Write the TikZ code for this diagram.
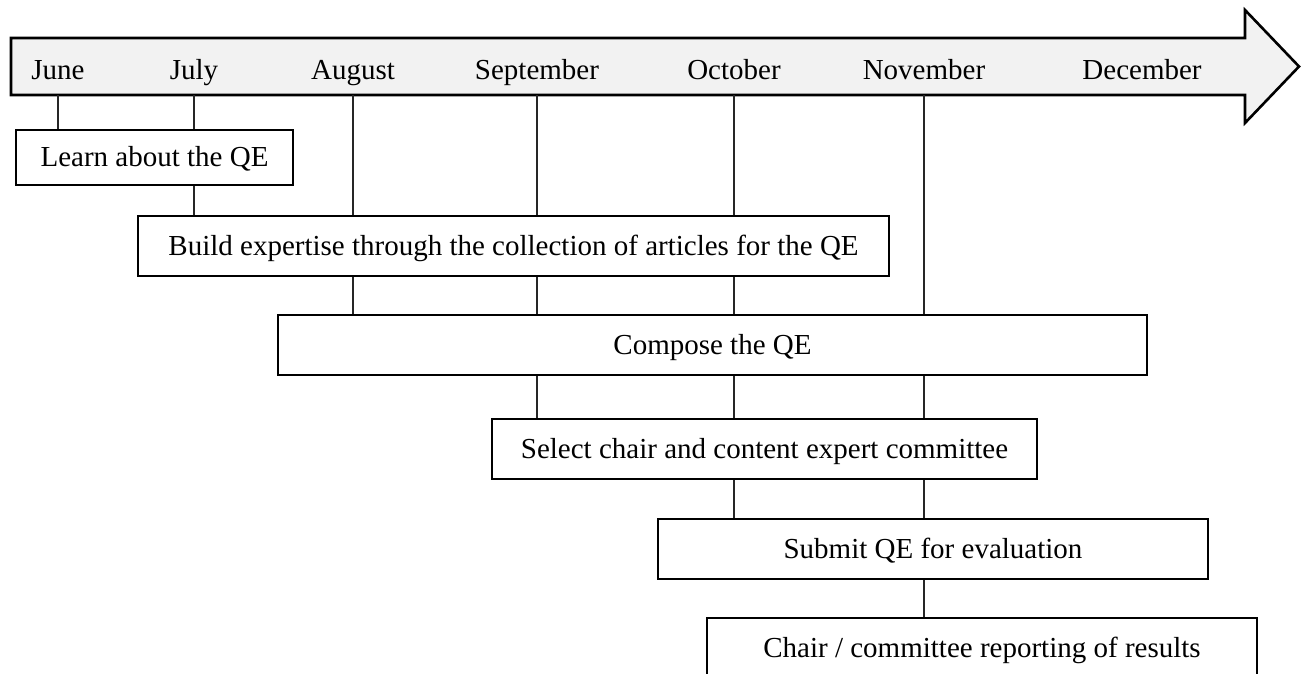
\documentclass[tikz,border=0pt]{standalone}
\usepackage{fontspec}
\setmainfont{Liberation Serif}
\definecolor{arrowfill}{HTML}{F2F2F2}
\tikzset{
  month/.style={anchor=base, inner sep=0pt, font=\fontsize{29}{34}\selectfont},
  taskbox/.style={draw=black, line width=2pt, fill=white, inner sep=0pt,
    text height=19pt, text depth=0pt, font=\fontsize{29}{34}\selectfont},
  link/.style={draw=black!85, line width=1.2pt},
  timearrow/.style={draw=black, line width=2.6pt, fill=arrowfill, line join=miter}
}
\begin{document}
\begin{tikzpicture}[x=1pt, y=-1pt]
\useasboundingbox (0,0) rectangle (1304,674);
% time axis arrow
\draw[timearrow] (11,38) -- (1245,38) -- (1245,10) -- (1299,66.5) -- (1245,123) -- (1245,95) -- (11,95) -- cycle;
\coordinate (axis) at (0,95);
% month labels
\node[month] (jun) at (58,80) {June};
\node[month] (jul) at (194,80) {July};
\node[month] (aug) at (353,80) {August};
\node[month] (sep) at (537,80) {September};
\node[month] (oct) at (734,80) {October};
\node[month] (nov) at (924,80) {November};
\node[month] (dec) at (1142,80) {December};
% task boxes
\node[taskbox, minimum width=277pt, minimum height=55pt] (b1) at (154.5,157.5) {Learn about the QE};
\node[taskbox, minimum width=751pt, minimum height=60pt] (b2) at (513.5,246) {Build expertise through the collection of articles for the QE};
\node[taskbox, minimum width=869pt, minimum height=60pt] (b3) at (712.5,345) {Compose the QE};
\node[taskbox, minimum width=545pt, minimum height=60pt] (b4) at (764.5,449) {Select chair and content expert committee};
\node[taskbox, minimum width=550pt, minimum height=60pt] (b5) at (933,549) {Submit QE for evaluation};
\node[taskbox, minimum width=550pt, minimum height=60pt] (b6) at (982,648) {Chair / committee reporting of results};
% connectors
\draw[link] (jun |- axis) -- (jun |- b1.north);
\draw[link] (jul |- axis) -- (jul |- b1.north);
\draw[link] (jul |- b1.south) -- (jul |- b2.north);
\draw[link] (aug |- axis) -- (aug |- b2.north);
\draw[link] (aug |- b2.south) -- (aug |- b3.north);
\draw[link] (sep |- axis) -- (sep |- b2.north);
\draw[link] (sep |- b2.south) -- (sep |- b3.north);
\draw[link] (sep |- b3.south) -- (sep |- b4.north);
\draw[link] (oct |- axis) -- (oct |- b2.north);
\draw[link] (oct |- b2.south) -- (oct |- b3.north);
\draw[link] (oct |- b3.south) -- (oct |- b4.north);
\draw[link] (oct |- b4.south) -- (oct |- b5.north);
\draw[link] (nov |- axis) -- (nov |- b3.north);
\draw[link] (nov |- b3.south) -- (nov |- b4.north);
\draw[link] (nov |- b4.south) -- (nov |- b5.north);
\draw[link] (nov |- b5.south) -- (nov |- b6.north);
\end{tikzpicture}
\end{document}
